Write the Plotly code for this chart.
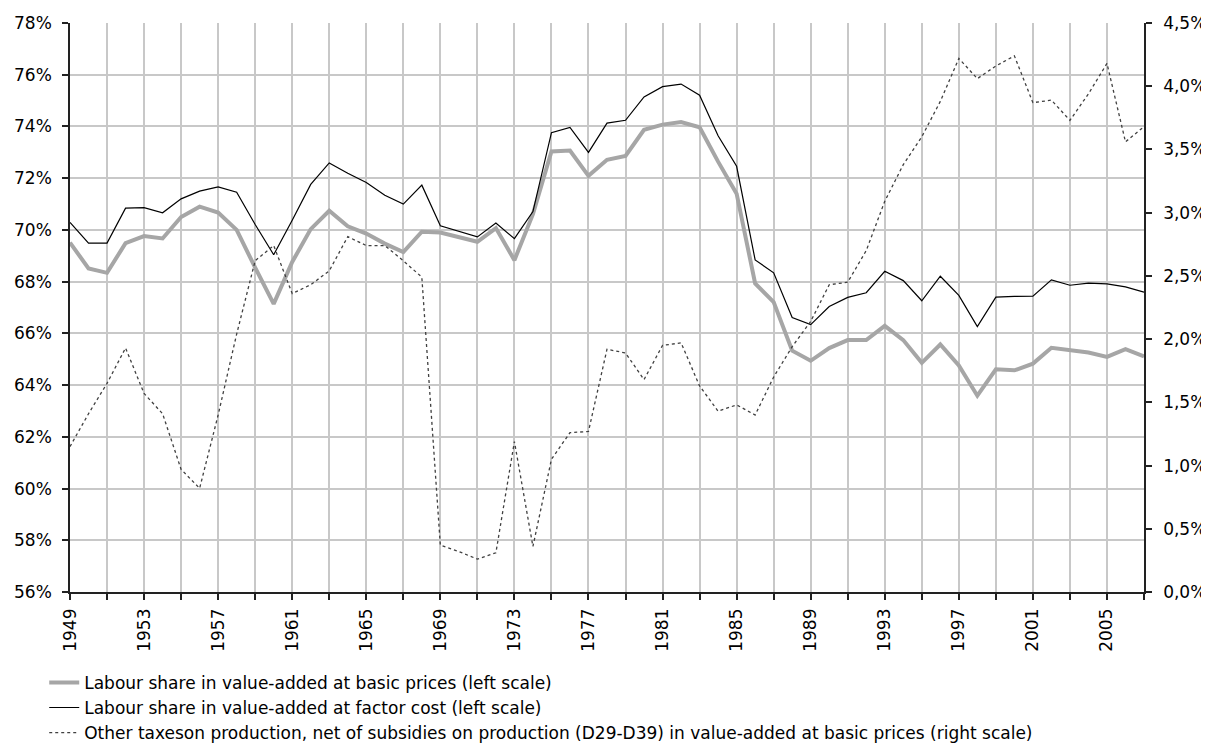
import plotly.graph_objects as go

years = list(range(1949, 2008))

basic_prices = [69.51, 68.51, 68.34, 69.49, 69.76, 69.67, 70.50, 70.90, 70.67, 70.00,
                68.54, 67.14, 68.76, 70.03, 70.74, 70.14, 69.86, 69.47, 69.14, 69.93,
                69.90, 69.70, 69.54, 70.07, 68.83, 70.61, 73.03, 73.07, 72.09, 72.71,
                72.86, 73.87, 74.07, 74.17, 73.97, 72.64, 71.40, 67.93, 67.21, 65.33,
                64.94, 65.43, 65.74, 65.74, 66.29, 65.74, 64.86, 65.57, 64.76, 63.59,
                64.61, 64.57, 64.83, 65.44, 65.34, 65.26, 65.09, 65.39, 65.11]

factor_cost = [70.29, 69.49, 69.49, 70.84, 70.86, 70.66, 71.20, 71.50, 71.66, 71.46,
               70.21, 69.04, 70.37, 71.76, 72.59, 72.19, 71.83, 71.34, 71.00, 71.73,
               70.16, 69.94, 69.73, 70.27, 69.66, 70.71, 73.76, 73.96, 73.00, 74.13,
               74.24, 75.14, 75.54, 75.64, 75.21, 73.64, 72.46, 68.84, 68.34, 66.61,
               66.34, 67.04, 67.39, 67.57, 68.40, 68.04, 67.26, 68.21, 67.47, 66.26,
               67.40, 67.43, 67.44, 68.07, 67.86, 67.94, 67.91, 67.80, 67.59]

other_taxes = [1.15, 1.41, 1.65, 1.93, 1.57, 1.41, 0.97, 0.82, 1.40, 2.04,
               2.62, 2.74, 2.36, 2.43, 2.54, 2.81, 2.74, 2.74, 2.62, 2.49,
               0.37, 0.32, 0.26, 0.31, 1.19, 0.36, 1.05, 1.26, 1.27, 1.92,
               1.89, 1.68, 1.95, 1.97, 1.63, 1.43, 1.48, 1.40, 1.70, 1.94,
               2.14, 2.43, 2.45, 2.70, 3.09, 3.38, 3.60, 3.88, 4.22, 4.06,
               4.16, 4.24, 3.87, 3.89, 3.73, 3.94, 4.18, 3.56, 3.68]

series_names = [
    "Labour share in value-added at basic prices (left scale)",
    "Labour share in value-added at factor cost (left scale)",
    "Other taxeson production, net of subsidies on production (D29-D39) in value-added at basic prices (right scale)",
]

tick_years = years[::2]
tick_text = [str(y) if (y - 1949) % 4 == 0 else "" for y in tick_years]

FONT = "DejaVu Sans, Liberation Sans, Arial, sans-serif"
AXIS = "#222222"
FS = 17

fig = go.Figure()
fig.add_trace(go.Scatter(x=years, y=basic_prices, name=series_names[0], mode="lines",
                         line=dict(color="#a6a6a6", width=4)))
fig.add_trace(go.Scatter(x=years, y=factor_cost, name=series_names[1], mode="lines",
                         line=dict(color="#000000", width=1.2)))
fig.add_trace(go.Scatter(x=years, y=other_taxes, name=series_names[2], mode="lines",
                         yaxis="y2", line=dict(color="#404040", width=1.3, dash="dot")))

fig.update_layout(
    width=1201, height=736,
    margin=dict(l=62, r=65, t=15, b=152, autoexpand=False),
    paper_bgcolor="white", plot_bgcolor="white",
    separators=",.",
    font=dict(family=FONT, size=FS, color="#000000"),
    showlegend=True,
    legend=dict(orientation="v", x=-0.024, y=-0.128, xanchor="left", yanchor="top",
                bgcolor="rgba(0,0,0,0)", font=dict(size=FS), tracegroupgap=0,
                itemwidth=30, traceorder="normal"),
    xaxis=dict(range=[1949, 2007], tickmode="array", tickvals=tick_years, ticktext=tick_text,
               tickangle=-90, showgrid=True, gridcolor="#c8c8c8", gridwidth=2,
               showline=True, linecolor=AXIS, linewidth=1.5,
               ticks="outside", ticklen=6, tickcolor=AXIS, tickwidth=1.5,
               ticklabelstandoff=2, zeroline=False, tickfont=dict(size=FS)),
    yaxis=dict(range=[56, 78], dtick=2, tick0=56, ticksuffix="%", tickformat="d",
               showgrid=True, gridcolor="#c8c8c8", gridwidth=2,
               showline=True, linecolor=AXIS, linewidth=1.5,
               ticks="outside", ticklen=6, tickcolor=AXIS, tickwidth=1.5,
               ticklabelstandoff=7, zeroline=False, tickfont=dict(size=FS)),
    yaxis2=dict(range=[0, 4.5], dtick=0.5, tick0=0, ticksuffix="%", tickformat=".1f",
                overlaying="y", side="right", showgrid=False,
                showline=True, linecolor=AXIS, linewidth=1.5,
                ticks="outside", ticklen=6, tickcolor=AXIS, tickwidth=1.5,
                ticklabelstandoff=8, zeroline=False, tickfont=dict(size=FS)),
)

fig.write_html("out.html")
